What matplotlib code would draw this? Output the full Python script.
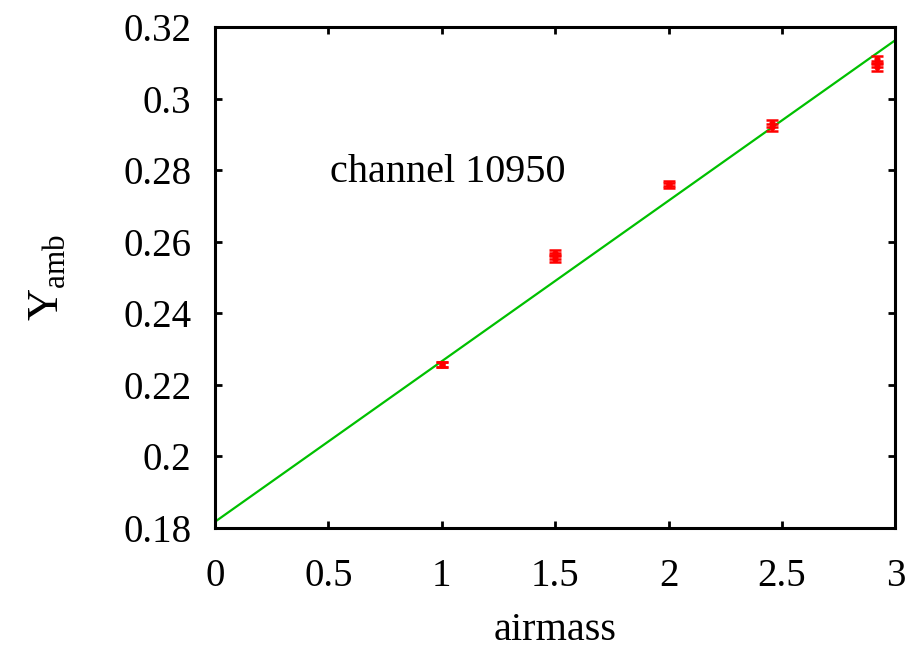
import numpy as np
import matplotlib
matplotlib.use('Agg')
import matplotlib.pyplot as plt

plt.rcParams['font.family'] = ['Liberation Serif', 'DejaVu Serif']
plt.rcParams['mathtext.fontset'] = 'custom'
plt.rcParams['mathtext.rm'] = 'Liberation Serif'

##==============================================================================
# measured points (several scans per airmass)
airmass = [1.0, 1.0, 1.5, 1.5, 1.5, 2.0, 2.0, 2.455, 2.455, 2.92, 2.92, 2.92]
yamb = [0.2256, 0.2258, 0.2553, 0.2561, 0.2568, 0.2758, 0.2762,
        0.2920, 0.2931, 0.3088, 0.3098, 0.3110]
yerr = [0.0007, 0.0007, 0.0009, 0.0009, 0.0009, 0.0007, 0.0007,
        0.0009, 0.0009, 0.0009, 0.0009, 0.0009]

# linear fit
fit_a = 0.1817
fit_b = 0.0449
x_fit = np.array([0.0, 3.0])

##==============================================================================
fig = plt.figure(figsize=(9.23, 6.5), dpi=100)
ax = fig.add_axes([0.233, 0.188, 0.737, 0.770])

ax.plot(x_fit, fit_a + fit_b*x_fit, color='#00c000', lw=1.6, zorder=2)
ax.errorbar(airmass, yamb, yerr=yerr, fmt='o', color='red', ms=3.5,
            elinewidth=1.8, capsize=4, capthick=1.8, zorder=3)

ax.text(0.505, 0.2795, 'channel 10950', fontsize=29, ha='left', va='center')

ax.set_xlim(0, 3)
ax.set_ylim(0.18, 0.32)
ax.set_xticks([0, 0.5, 1, 1.5, 2, 2.5, 3])
ax.set_xticklabels(['0', '0.5', '1', '1.5', '2', '2.5', '3'])
ax.set_yticks(np.arange(0.18, 0.3201, 0.02))
ax.set_yticklabels(['0.18', '0.2', '0.22', '0.24', '0.26', '0.28', '0.3', '0.32'])
ax.tick_params(direction='in', length=5, width=2, labelsize=28,
               top=True, right=True)
ax.tick_params(axis='y', pad=17)
ax.tick_params(axis='x', pad=22)
for s in ax.spines.values():
    s.set_linewidth(2.2)

ax.set_xlabel('airmass', fontsize=29, labelpad=12)
ax.set_ylabel(r'Y$_{\mathrm{amb}}$', fontsize=32, labelpad=40)

fig.savefig('out.png', dpi=100)
